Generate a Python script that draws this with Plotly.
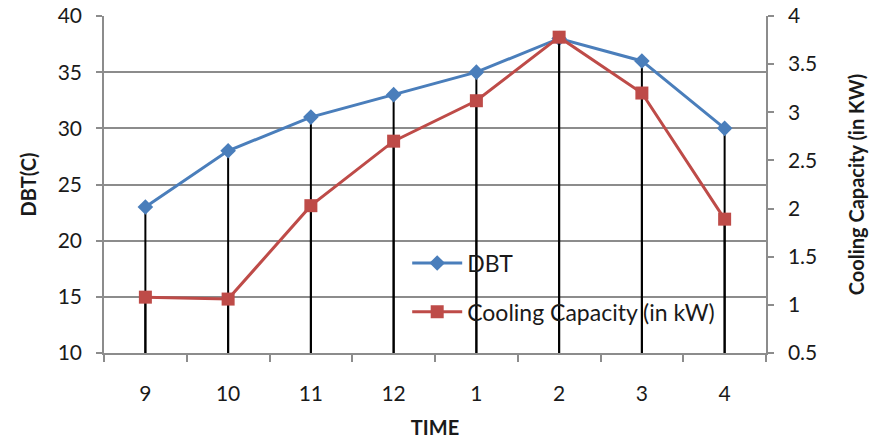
import plotly.graph_objects as go

times = ["9", "10", "11", "12", "1", "2", "3", "4"]
dbt = [23, 28, 31, 33, 35, 38, 36, 30]
cooling = [1.08, 1.06, 2.03, 2.70, 3.12, 3.78, 3.20, 1.89]

y1_range = [10, 40]
y2_range = [0.5, 4]

BLUE = "#4A7EBB"
RED = "#BE4B48"
GRID = "#8C8C8C"
FONT = "Lato, 'Open Sans', sans-serif"
TICK = 21
TITLE = 20
LEG = 23

fig = go.Figure()

dx, dy = [], []
for t, v in zip(times, dbt):
    dx += [t, t, None]
    dy += [v, y1_range[0], None]
fig.add_trace(go.Scatter(x=dx, y=dy, mode="lines", line=dict(color="black", width=2),
                         showlegend=False, hoverinfo="skip"))
cx, cy = [], []
for t, v in zip(times, cooling):
    cx += [t, t, None]
    cy += [v, y2_range[0], None]
fig.add_trace(go.Scatter(x=cx, y=cy, mode="lines", line=dict(color="black", width=2),
                         showlegend=False, hoverinfo="skip", yaxis="y2"))

fig.add_trace(go.Scatter(x=times, y=dbt, name="DBT", mode="lines+markers",
                         line=dict(color=BLUE, width=3),
                         marker=dict(symbol="diamond", size=12, color=BLUE),
                         legend="legend"))
fig.add_trace(go.Scatter(x=times, y=cooling, name="Cooling Capacity (in kW)", mode="lines+markers",
                         line=dict(color=RED, width=3),
                         marker=dict(symbol="square", size=13, color=RED),
                         yaxis="y2", legend="legend2"))

fig.update_layout(
    width=870, height=439,
    margin=dict(l=104, r=104, t=16, b=86),
    paper_bgcolor="white", plot_bgcolor="white",
    font=dict(family=FONT, size=TICK, color="#1a1a1a"),
    xaxis=dict(type="category", range=[-0.5, 7.5], tickson="boundaries",
               ticks="outside", ticklen=7, tickcolor=GRID, tickwidth=1.5, showgrid=False,
               showline=True, linecolor=GRID, linewidth=1.5, automargin=False,
               ticklabelstandoff=21,
               title=dict(text="<b>TIME</b>", font=dict(size=TITLE), standoff=18),
               tickfont=dict(size=TICK)),
    yaxis=dict(range=y1_range, dtick=5, ticks="outside", ticklen=6, tickcolor=GRID, tickwidth=1.5,
               showgrid=True, gridcolor=GRID, gridwidth=1.5, automargin=False,
               showline=True, linecolor=GRID, linewidth=1.5, zeroline=False,
               ticklabelstandoff=10,
               title=dict(text="<b>DBT(C)</b>", font=dict(size=TITLE), standoff=16),
               tickfont=dict(size=TICK)),
    yaxis2=dict(range=y2_range, dtick=0.5, overlaying="y", side="right",
                ticks="outside", ticklen=6, tickcolor=GRID, tickwidth=1.5, showgrid=False,
                showline=True, linecolor=GRID, linewidth=1.5, zeroline=False, automargin=False,
                ticklabelstandoff=10,
                title=dict(text="<b>Cooling Capacity (in KW)</b>", font=dict(size=TITLE), standoff=34),
                tickfont=dict(size=TICK)),
    legend=dict(x=0.458, y=0.267, xanchor="left", yanchor="middle",
                bgcolor="rgba(0,0,0,0)", font=dict(size=LEG), itemwidth=50),
    legend2=dict(x=0.458, y=0.122, xanchor="left", yanchor="middle",
                 bgcolor="rgba(0,0,0,0)", font=dict(size=LEG), itemwidth=50),
)

fig.write_html("out.html")
